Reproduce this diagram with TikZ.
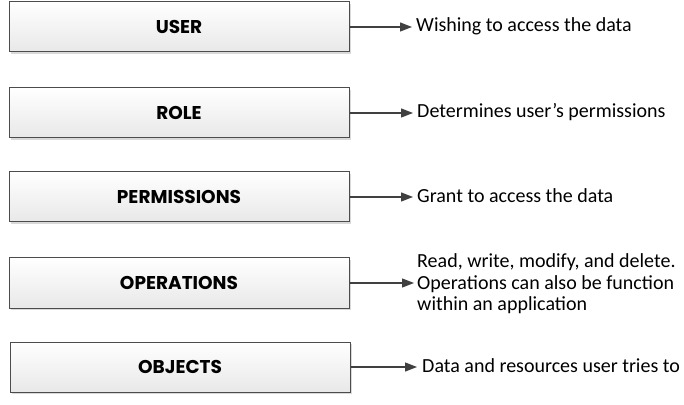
\documentclass[tikz,border=0pt]{standalone}
\usepackage{fontspec}
\setmainfont{Carlito}
\newfontfamily\boxfont{Poppins}[UprightFont=* Bold]
\usetikzlibrary{arrows.meta,shadows}
\begin{document}
\begin{tikzpicture}[x=1pt,y=1pt,
  box/.style={draw=black!70, line width=1pt, minimum width=340pt, minimum height=50pt,
    top color=white, bottom color=black!9, inner sep=0pt,
    font=\boxfont\fontsize{18.5}{22}\selectfont,
    drop shadow={shadow xshift=2pt, shadow yshift=-2pt, fill=black!25, opacity=0.6}},
  desc/.style={anchor=west, inner sep=0pt, align=left, font=\fontsize{20}{21.5}\selectfont},
  conn/.style={draw=black!75, line width=1.3pt, -{Triangle[length=12pt,width=9pt]}}]
\useasboundingbox (0,0) rectangle (684,404);
\node[box] (user) at (179,377) {USER};
\node[box] (role) at (179,291) {ROLE};
\node[box] (perm) at (179,207) {PERMISSIONS};
\node[box] (oper) at (179,121) {OPERATIONS};
\node[box] (obj) at (180,37) {OBJECTS};
\node[desc] (duser) at (416,378) {Wishing to access the data};
\node[desc] (drole) at (417,292) {Determines user’s permissions};
\node[desc] (dperm) at (417,208) {Grant to access the data};
\node[desc] (doper) at (417,120) {Read, write, modify, and delete.\\Operations can also be function\\within an application};
\node[desc] (dobj) at (422,38) {Data and resources user tries to};
\draw[conn] (user.east) -- ([xshift=-4pt]user.east -| duser.west);
\draw[conn] (role.east) -- ([xshift=-4pt]role.east -| drole.west);
\draw[conn] (perm.east) -- ([xshift=-4pt]perm.east -| dperm.west);
\draw[conn] (oper.east) -- ([xshift=-3pt]oper.east -| doper.west);
\draw[conn] (obj.east) -- ([xshift=-5pt]obj.east -| dobj.west);
\end{tikzpicture}
\end{document}
